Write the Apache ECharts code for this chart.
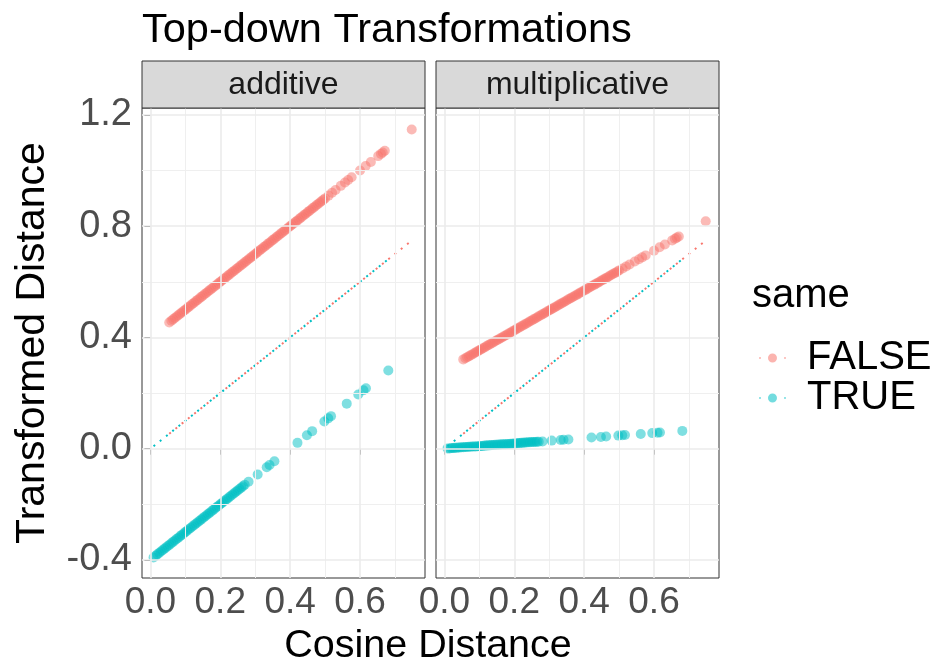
<!DOCTYPE html>
<html><head><meta charset="utf-8">
<script src="https://cdn.jsdelivr.net/npm/echarts@6/dist/echarts.min.js"></script>
<style>html,body{margin:0;padding:0;background:#fff}#c{width:937px;height:669px}</style>
</head><body><div id="c"></div>
<script>
// ---- data ----
const panels = ['additive', 'multiplicative'];
const groups = ['FALSE', 'TRUE'];

const cosFalse = [0.054,0.06,0.07,0.08,0.09,0.10,0.11,0.12,0.13,0.14,0.15,0.16,0.17,0.18,0.19,0.20,0.21,0.22,0.23,0.24,0.25,0.26,0.27,0.28,0.29,0.30,0.31,0.32,0.33,0.34,0.35,0.36,0.37,0.38,0.39,0.40,0.41,0.42,0.43,0.44,0.45,0.46,0.47,0.48,0.49,0.50,0.51,0.52,0.53,0.545,0.557,0.566,0.576,0.600,0.616,0.631,0.652,0.660,0.665,0.671,0.748,
  0.065,0.075,0.085,0.095,0.105,0.115,0.125,0.135,0.145,0.155,0.165,0.175,0.185,0.195,0.205,0.215,0.225,0.235,0.245,0.255,0.265,0.275,0.285,0.295,0.305,0.315,0.325,0.335,0.345,0.355,0.365,0.375,0.385,0.395,0.405,0.415,0.425,0.435,0.445,0.455,0.465,0.475,0.485,0.495];
const addFalse = [0.454,0.46,0.47,0.48,0.49,0.50,0.51,0.52,0.53,0.54,0.55,0.56,0.57,0.58,0.59,0.60,0.61,0.62,0.63,0.64,0.65,0.66,0.67,0.68,0.69,0.70,0.71,0.72,0.73,0.74,0.75,0.76,0.77,0.78,0.79,0.80,0.81,0.82,0.83,0.84,0.85,0.86,0.87,0.88,0.89,0.90,0.91,0.92,0.93,0.945,0.957,0.966,0.976,1.000,1.016,1.031,1.052,1.060,1.065,1.071,1.148,
  0.465,0.475,0.485,0.495,0.505,0.515,0.525,0.535,0.545,0.555,0.565,0.575,0.585,0.595,0.605,0.615,0.625,0.635,0.645,0.655,0.665,0.675,0.685,0.695,0.705,0.715,0.725,0.735,0.745,0.755,0.765,0.775,0.785,0.795,0.805,0.815,0.825,0.835,0.845,0.855,0.865,0.875,0.885,0.895];
const mulFalse = [0.321,0.325,0.332,0.339,0.347,0.354,0.361,0.368,0.375,0.382,0.390,0.397,0.404,0.411,0.418,0.425,0.433,0.440,0.447,0.454,0.461,0.468,0.476,0.483,0.490,0.497,0.504,0.511,0.519,0.526,0.533,0.540,0.547,0.554,0.562,0.569,0.576,0.583,0.590,0.597,0.605,0.612,0.619,0.626,0.633,0.641,0.648,0.655,0.662,0.673,0.681,0.688,0.695,0.712,0.724,0.734,0.749,0.755,0.759,0.763,0.818,
  0.329,0.336,0.343,0.350,0.357,0.364,0.372,0.379,0.386,0.393,0.400,0.407,0.415,0.422,0.429,0.436,0.443,0.450,0.458,0.465,0.472,0.479,0.486,0.494,0.501,0.508,0.515,0.522,0.529,0.537,0.544,0.551,0.558,0.565,0.572,0.580,0.587,0.594,0.601,0.608,0.615,0.623,0.630,0.637];

const cosTrue = [0.009,0.02,0.025,0.03,0.04,0.05,0.06,0.07,0.08,0.09,0.10,0.11,0.12,0.13,0.14,0.15,0.16,0.17,0.18,0.19,0.20,0.21,0.22,0.23,0.24,0.25,0.26,0.27,0.281,0.307,0.333,0.341,0.355,0.421,0.448,0.463,0.498,0.509,0.517,0.562,0.595,0.610,0.617,0.681,
  0.015,0.035,0.045,0.055,0.065,0.075,0.085,0.095,0.105,0.115,0.125,0.135,0.145,0.155,0.165,0.175,0.185,0.195,0.205,0.215,0.225,0.235,0.245,0.255,0.265];
const addTrue = [-0.391,-0.38,-0.375,-0.37,-0.36,-0.35,-0.34,-0.33,-0.32,-0.31,-0.30,-0.29,-0.28,-0.27,-0.26,-0.25,-0.24,-0.23,-0.22,-0.21,-0.20,-0.19,-0.18,-0.17,-0.16,-0.15,-0.14,-0.13,-0.119,-0.093,-0.067,-0.059,-0.045,0.021,0.048,0.063,0.098,0.109,0.117,0.162,0.195,0.210,0.217,0.281,
  -0.385,-0.365,-0.355,-0.345,-0.335,-0.325,-0.315,-0.305,-0.295,-0.285,-0.275,-0.265,-0.255,-0.245,-0.235,-0.225,-0.215,-0.205,-0.195,-0.185,-0.175,-0.165,-0.155,-0.145,-0.135];
const mulTrue = [0.001,0.002,0.002,0.003,0.004,0.005,0.006,0.007,0.008,0.008,0.009,0.010,0.011,0.012,0.013,0.014,0.015,0.016,0.017,0.018,0.019,0.020,0.021,0.022,0.023,0.024,0.024,0.025,0.026,0.029,0.031,0.032,0.033,0.040,0.042,0.044,0.047,0.048,0.049,0.053,0.056,0.057,0.058,0.064,
  0.001,0.003,0.004,0.005,0.006,0.007,0.008,0.009,0.010,0.011,0.012,0.013,0.014,0.015,0.016,0.016,0.017,0.018,0.019,0.020,0.021,0.022,0.023,0.024,0.025];

const xMajor = [0, 0.2, 0.4, 0.6];
const xMinor = [0.1, 0.3, 0.5, 0.7];
const yMajor = [-0.4, 0, 0.4, 0.8, 1.2];
const yMinor = [-0.2, 0.2, 0.6, 1.0];

// ---- styling / layout ----
const FONT = '"Liberation Sans", Arial, Helvetica, sans-serif';
const RED = '#F8766D', TEAL = '#00BFC4';
const xMin = -0.024, xMax = 0.786, yMin = -0.465, yMax = 1.225;
const gridBoxes = [
  {left: 142, top: 108, width: 283, height: 470},
  {left: 436, top: 108, width: 283, height: 470}
];

const panelData = [
  {FALSE: addFalse, TRUE: addTrue},
  {FALSE: mulFalse, TRUE: mulTrue}
];
const cosBy = {FALSE: cosFalse, TRUE: cosTrue};
const colorBy = {FALSE: RED, TRUE: TEAL};

const zip = (a, b) => a.map((v, i) => [v, b[i]]);

const grid = gridBoxes.map(g => Object.assign({
  show: true, borderColor: '#333333', borderWidth: 1, backgroundColor: '#fff'
}, g));

const xAxis = gridBoxes.map((g, i) => ({
  type: 'value', gridIndex: i, min: xMin, max: xMax,
  axisLine: {show: false},
  splitLine: {show: false},
  axisTick: {show: true, customValues: xMajor, length: 6, lineStyle: {color: '#333333', width: 1}},
  axisLabel: {show: true, customValues: xMajor, formatter: v => v.toFixed(1),
    fontSize: 37, color: '#4D4D4D', fontFamily: FONT, margin: 6}
}));

const yAxis = gridBoxes.map((g, i) => ({
  type: 'value', gridIndex: i, min: yMin, max: yMax,
  axisLine: {show: false},
  splitLine: {show: false},
  axisTick: {show: i === 0, customValues: yMajor, length: 6, lineStyle: {color: '#333333', width: 1}},
  axisLabel: {show: i === 0, customValues: yMajor, formatter: v => v.toFixed(1),
    fontSize: 38, color: '#4D4D4D', fontFamily: FONT, margin: 10}
}));

const series = [];
// background grid lines
gridBoxes.forEach((g, i) => {
  const major = {color: '#EBEBEB', width: 1.6, type: 'solid'};
  const minor = {color: '#EFEFEF', width: 1, type: 'solid'};
  series.push({
    type: 'scatter', xAxisIndex: i, yAxisIndex: i, data: [], silent: true, z: 1,
    markLine: {
      silent: true, symbol: ['none', 'none'], label: {show: false}, animation: false,
      data: [
        ...xMinor.map(v => ({xAxis: v, lineStyle: minor})),
        ...yMinor.map(v => ({yAxis: v, lineStyle: minor})),
        ...xMajor.map(v => ({xAxis: v, lineStyle: major})),
        ...yMajor.map(v => ({yAxis: v, lineStyle: major}))
      ]
    }
  });
});
// points
gridBoxes.forEach((g, i) => {
  groups.forEach(grp => {
    series.push({
      name: grp, type: 'scatter', xAxisIndex: i, yAxisIndex: i, z: 3,
      symbol: 'circle', symbolSize: 10,
      itemStyle: {color: colorBy[grp], opacity: 0.5, borderWidth: 0},
      data: zip(cosBy[grp], panelData[i][grp]),
      animation: false
    });
  });
});
// dotted identity lines (cosine vs cosine)
gridBoxes.forEach((g, i) => {
  groups.forEach(grp => {
    const xs = cosBy[grp].slice().sort((a, b) => a - b);
    series.push({
      name: grp, type: 'line', xAxisIndex: i, yAxisIndex: i, z: 2,
      showSymbol: false, symbol: 'none',
      lineStyle: {color: colorBy[grp], width: 2, type: [2, 6], dashOffset: 0},
      data: zip(xs, xs),
      animation: false
    });
  });
});

const ICON = 'path://M0,4.5a1,1 0 1,0 2,0a1,1 0 1,0 -2,0ZM9,4.5a4.5,4.5 0 1,0 9,0a4.5,4.5 0 1,0 -9,0ZM25,4.5a1,1 0 1,0 2,0a1,1 0 1,0 -2,0Z';

const graphic = [];
gridBoxes.forEach((g, i) => {
  graphic.push({
    type: 'rect', silent: true, z: 10,
    shape: {x: g.left, y: 61, width: g.width, height: 47},
    style: {fill: '#D9D9D9', stroke: '#333333', lineWidth: 1}
  });
  graphic.push({
    type: 'text', silent: true, z: 11,
    x: g.left + g.width / 2, y: 85,
    style: {text: panels[i], fontSize: 32, fontFamily: FONT, fill: '#1A1A1A', align: 'center', verticalAlign: 'middle'}
  });
});
graphic.push({
  type: 'text', silent: true, x: 428, y: 646,
  style: {text: 'Cosine Distance', fontSize: 39.5, fontFamily: FONT, fill: '#000', align: 'center', verticalAlign: 'middle'}
});
graphic.push({
  type: 'text', silent: true, x: 33, y: 343, rotation: Math.PI / 2,
  style: {text: 'Transformed Distance', fontSize: 41, fontFamily: FONT, fill: '#000', align: 'center', verticalAlign: 'middle'}
});
graphic.push({
  type: 'text', silent: true, x: 752, y: 296,
  style: {text: 'same', fontSize: 40, fontFamily: FONT, fill: '#000', align: 'left', verticalAlign: 'middle'}
});

const option = {
  backgroundColor: '#ffffff',
  animation: false,
  title: {
    text: 'Top-down Transformations', left: 137, top: 5,
    textStyle: {fontSize: 41.5, fontWeight: 'normal', color: '#000', fontFamily: FONT}
  },
  legend: {
    orient: 'vertical', left: 754, top: 333,
    itemWidth: 27, itemHeight: 9, itemGap: 0,
    data: groups.map(grp => ({name: grp, icon: ICON, itemStyle: {color: colorBy[grp], opacity: 0.55}})),
    textStyle: {fontSize: 40, color: '#000', fontFamily: FONT, lineHeight: 39, padding: [0, 0, 0, 16]}
  },
  grid, xAxis, yAxis, series, graphic
};

const chart = echarts.init(document.getElementById('c'), null, {renderer: 'canvas'});
chart.setOption(option);
</script>
</body></html>
